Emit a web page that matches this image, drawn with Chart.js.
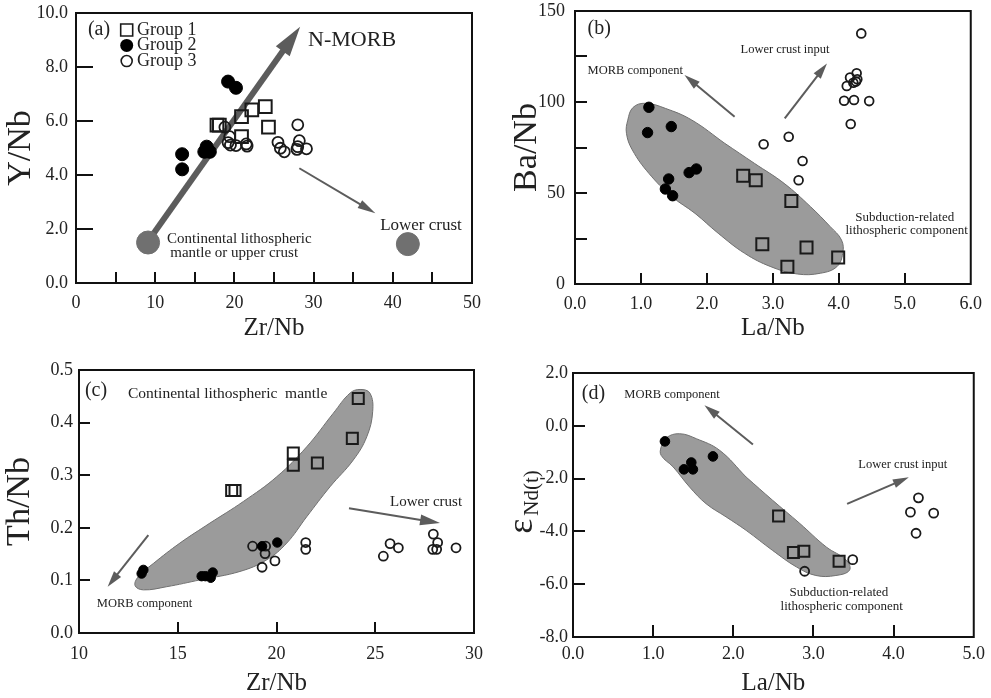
<!DOCTYPE html>
<html>
<head>
<meta charset="utf-8">
<script src="https://cdn.jsdelivr.net/npm/chart.js@4.4.0/dist/chart.umd.min.js"></script>
<style>
html, body { margin: 0; padding: 0; background: #fff; }
#wrap { position: relative; width: 991px; height: 698px; }
#wrap canvas { position: absolute; }
</style>
</head>
<body>
<div id="wrap">
  <canvas id="chartA" width="495" height="345" style="left:0;top:0"></canvas>
  <canvas id="chartB" width="491" height="345" style="left:500px;top:0"></canvas>
  <canvas id="chartC" width="495" height="348" style="left:0;top:350px"></canvas>
  <canvas id="chartD" width="491" height="348" style="left:500px;top:350px"></canvas>
</div>
<script>
// ---- (a) Zr/Nb vs Y/Nb ----
const aG1Zr = [17.8, 18.1, 20.9, 22.2, 23.9, 24.3, 20.9];
const aG1Y = [5.85, 5.85, 6.16, 6.41, 6.53, 5.77, 5.42];
const aG2Zr = [19.2, 20.2, 13.4, 13.4, 16.5, 16.2, 16.9, 16.6];
const aG2Y = [7.46, 7.23, 4.77, 4.21, 5.05, 4.86, 4.86, 4.95];
const aG3Zr = [18.8, 19.4, 19.2, 19.5, 20.2, 21.5, 21.6, 25.5, 25.8, 26.3, 28.0, 28.2, 27.9, 29.1, 28.0];
const aG3Y = [5.77, 5.42, 5.20, 5.11, 5.09, 5.15, 5.07, 5.21, 4.99, 4.86, 5.86, 5.27, 4.95, 4.97, 5.05];
const aEndZr = [9.1, 41.9];
const aEndY = [1.5, 1.44];
const aArrowMorb = [9.1, 1.55, 28.3, 9.49];
const aArrowCrust = [28.2, 4.25, 37.8, 2.58];

// ---- (b) La/Nb vs Ba/Nb ----
const bG1La = [2.55, 2.74, 3.28, 2.84, 3.51, 3.22, 3.99];
const bG1Ba = [59.5, 57.0, 45.6, 21.8, 20.1, 9.5, 14.5];
const bG2La = [1.12, 1.10, 1.46, 1.42, 1.37, 1.48, 1.73, 1.84];
const bG2Ba = [97.1, 83.2, 86.5, 57.7, 52.2, 48.5, 61.2, 63.2];
const bG3La = [4.34, 2.86, 3.24, 3.45, 3.39, 4.08, 4.23, 4.46, 4.18, 4.12, 4.17, 4.27, 4.26, 4.22, 4.28];
const bG3Ba = [137.7, 76.8, 80.9, 67.6, 57.0, 100.7, 101.1, 100.5, 87.9, 108.8, 113.4, 115.8, 111.2, 110.6, 112.5];
const bField = [[2.27, 77.3], [2.72, 66.3], [3.17, 55.3], [3.57, 42.5], [3.87, 31.5], [4.04, 24.2], [4.06, 16.9],
  [3.97, 9.5], [3.72, 5.9], [3.37, 5.5], [2.97, 9.5], [2.57, 16.9], [2.17, 27.9], [1.82, 38.8], [1.47, 48.0],
  [1.12, 60.8], [0.87, 73.6], [0.78, 82.8], [0.80, 90.0], [0.88, 97.0], [1.07, 99.3], [1.37, 96.5], [1.77, 90.1], [2.27, 77.3]];
const bArrowMorb = [2.42, 91.9, 1.66, 114.8];
const bArrowCrust = [3.18, 91.0, 3.82, 121.2];

// ---- (c) Zr/Nb vs Th/Nb ----
const cG1Zr = [24.14, 23.84, 20.85, 20.85, 22.07, 17.73, 17.9];
const cG1Th = [0.446, 0.370, 0.342, 0.319, 0.323, 0.271, 0.271];
const cG2Zr = [13.26, 13.17, 16.21, 16.67, 16.77, 16.4, 19.27, 20.04];
const cG2Th = [0.120, 0.113, 0.108, 0.105, 0.115, 0.108, 0.165, 0.172];
const cG3Zr = [18.79, 19.45, 19.42, 19.92, 19.27, 21.48, 21.48, 25.41, 25.75, 26.17, 27.94, 28.16, 27.91, 28.11, 29.09];
const cG3Th = [0.165, 0.165, 0.151, 0.137, 0.125, 0.172, 0.159, 0.146, 0.170, 0.162, 0.188, 0.172, 0.159, 0.159, 0.162];
const cField = [[16.63, 0.209], [18.32, 0.250], [20.01, 0.297], [21.53, 0.354], [22.88, 0.418], [23.72, 0.456],
  [24.23, 0.463], [24.73, 0.456], [24.87, 0.421], [24.57, 0.373], [23.89, 0.329], [22.71, 0.278], [21.53, 0.221],
  [20.52, 0.171], [19.5, 0.139], [18.15, 0.117], [16.13, 0.101], [14.44, 0.088], [13.26, 0.082], [12.84, 0.090],
  [13.0, 0.107], [13.76, 0.132], [15.11, 0.171], [16.63, 0.209]];
const cArrowMorb = [13.51, 0.186, 11.45, 0.088];
const cArrowCrust = [23.67, 0.237, 28.28, 0.209];

// ---- (d) La/Nb vs eNd(t) ----
const dG1La = [2.565, 2.75, 2.88, 3.32];
const dG1Nd = [-3.42, -4.80, -4.75, -5.13];
const dG2La = [1.147, 1.746, 1.384, 1.476, 1.496];
const dG2Nd = [-0.59, -1.16, -1.65, -1.39, -1.65];
const dG3La = [3.49, 2.89, 4.31, 4.21, 4.50, 4.28];
const dG3Nd = [-5.07, -5.51, -2.73, -3.27, -3.31, -4.07];
const dField = [[2.16, -1.94], [2.49, -2.82], [2.83, -3.70], [3.16, -4.59], [3.41, -5.09], [3.45, -5.47],
  [3.28, -5.67], [3.03, -5.67], [2.79, -5.35], [2.49, -4.72], [2.16, -3.96], [1.91, -3.45], [1.66, -2.95],
  [1.455, -2.32], [1.25, -1.56], [1.10, -1.12], [1.10, -0.80], [1.165, -0.45], [1.33, -0.30], [1.54, -0.49],
  [1.83, -0.93], [2.16, -1.94]];
const dArrowMorb = [2.245, -0.71, 1.64, 0.78];
const dArrowCrust = [3.42, -2.96, 4.19, -1.95];

const SERIF = '"Liberation Serif", "Times New Roman", Times, serif';
Chart.defaults.font.family = SERIF;
Chart.defaults.color = '#222';
const ARROW = '#5c5c5c';

function pts(xs, ys) {
    return xs.map(function (x, i) { return { x: x, y: ys[i] }; });
}

function poly(list) {
    return list.map(function (p) { return { x: p[0], y: p[1] }; });
}

function groups(g1, g2, g3, r) {
    return [
        { label: 'Group 1', data: g1, pointStyle: 'rect', pointRadius: r[0], backgroundColor: 'rgba(0,0,0,0)', borderColor: '#1a1a1a', borderWidth: 2, order: 1 },
        { label: 'Group 2', data: g2, pointStyle: 'circle', pointRadius: r[1], backgroundColor: '#000', borderColor: '#000', borderWidth: 1, order: 2 },
        { label: 'Group 3', data: g3, pointStyle: 'circle', pointRadius: r[2], backgroundColor: 'rgba(0,0,0,0)', borderColor: '#1a1a1a', borderWidth: 1.8, order: 3 }
    ];
}

function field(list) {
    return {
        type: 'line', label: 'field', data: poly(list), fill: 'shape', tension: 0.4,
        backgroundColor: '#9b9b9b', borderColor: '#707070', borderWidth: 1, pointRadius: 0, order: 10
    };
}

function drawArrow(ctx, x1, y1, x2, y2, lw, head, hw) {
    const ang = Math.atan2(y2 - y1, x2 - x1);
    const c = Math.cos(ang), s = Math.sin(ang);
    const bx = x2 - head * c, by = y2 - head * s;
    ctx.strokeStyle = ARROW;
    ctx.fillStyle = ARROW;
    ctx.lineWidth = lw;
    ctx.beginPath();
    ctx.moveTo(x1, y1);
    ctx.lineTo(bx + 2 * c, by + 2 * s);
    ctx.stroke();
    ctx.beginPath();
    ctx.moveTo(x2, y2);
    ctx.lineTo(bx - hw / 2 * s, by + hw / 2 * c);
    ctx.lineTo(bx + hw / 2 * s, by - hw / 2 * c);
    ctx.closePath();
    ctx.fill();
}

function decorPlugin(cfg) {
    return {
        id: 'decor',
        beforeDatasetsDraw: function (chart) {
            const ctx = chart.ctx, xs = chart.scales.x, ys = chart.scales.y;
            ctx.save();
            cfg.arrows.forEach(function (a) {
                drawArrow(ctx, xs.getPixelForValue(a.at[0]), ys.getPixelForValue(a.at[1]),
                    xs.getPixelForValue(a.at[2]), ys.getPixelForValue(a.at[3]), a.lw, a.head, a.hw);
            });
            ctx.restore();
        },
        afterDatasetsDraw: function (chart) {
            const ctx = chart.ctx, xs = chart.scales.x, ys = chart.scales.y, area = chart.chartArea;
            ctx.save();
            // notes
            ctx.fillStyle = '#222';
            ctx.textAlign = 'left';
            ctx.textBaseline = 'middle';
            cfg.notes.forEach(function (n) {
                ctx.font = n.size + 'px ' + SERIF;
                ctx.fillText(n.text, xs.getPixelForValue(n.x), ys.getPixelForValue(n.y));
            });
            // legend (panel a only)
            if (cfg.legend) {
                const L = cfg.legend;
                ctx.font = L.size + 'px ' + SERIF;
                L.rows.forEach(function (row, i) {
                    const mx = xs.getPixelForValue(L.x), my = ys.getPixelForValue(row.y);
                    ctx.lineWidth = 1.6;
                    ctx.strokeStyle = '#1a1a1a';
                    ctx.fillStyle = '#000';
                    ctx.beginPath();
                    if (i === 0) {
                        ctx.rect(mx - 6, my - 6, 12, 12);
                        ctx.stroke();
                    } else if (i === 1) {
                        ctx.arc(mx, my, 6.5, 0, Math.PI * 2);
                        ctx.fill();
                    } else {
                        ctx.arc(mx, my, 5.5, 0, Math.PI * 2);
                        ctx.stroke();
                    }
                    ctx.fillStyle = '#222';
                    ctx.fillText(row.text, xs.getPixelForValue(L.tx), my);
                });
            }
            // inward tick marks
            ctx.strokeStyle = '#111';
            ctx.lineWidth = 2;
            ctx.beginPath();
            xs.ticks.forEach(function (t) {
                if (t.value > xs.min && t.value < xs.max) {
                    const px = Math.round(xs.getPixelForValue(t.value));
                    ctx.moveTo(px, area.bottom);
                    ctx.lineTo(px, area.bottom - cfg.tickX);
                }
            });
            ys.ticks.forEach(function (t) {
                if (t.value > ys.min && t.value < ys.max) {
                    const py = Math.round(ys.getPixelForValue(t.value));
                    ctx.moveTo(area.left, py);
                    ctx.lineTo(area.left + cfg.tickY, py);
                }
            });
            ctx.stroke();
            // frame
            ctx.lineWidth = 2;
            ctx.strokeRect(area.left, area.top, area.right - area.left, area.bottom - area.top);
            // epsilon title for panel d
            if (cfg.epsTitle) {
                const e = cfg.epsTitle;
                ctx.translate(e.x, e.y);
                ctx.rotate(-Math.PI / 2);
                ctx.fillStyle = '#222';
                ctx.textBaseline = 'alphabetic';
                ctx.font = '36px ' + SERIF;
                const w = ctx.measureText('\u03b5').width;
                ctx.font = '21px ' + SERIF;
                const w2 = ctx.measureText('Nd(t)').width;
                const start = -(w + 3 + w2) / 2;
                ctx.font = '36px ' + SERIF;
                ctx.fillText('\u03b5', start, 5);
                ctx.font = '21px ' + SERIF;
                ctx.fillText('Nd(t)', start + w + 3, 11);
            }
            ctx.restore();
        }
    };
}

function makeChart(id, cfg) {
    new Chart(document.getElementById(id), {
        type: 'scatter',
        data: { datasets: cfg.datasets },
        options: {
            responsive: false,
            animation: false,
            events: [],
            layout: { padding: cfg.pad },
            plugins: { legend: { display: false }, tooltip: { enabled: false } },
            scales: {
                x: {
                    type: 'linear', min: cfg.x.min, max: cfg.x.max,
                    grid: { display: false, drawTicks: false }, border: { display: false },
                    ticks: { stepSize: cfg.x.step, padding: cfg.x.pad, autoSkip: false, maxRotation: 0, font: { size: 18 }, color: '#222', callback: cfg.x.fmt },
                    title: { display: true, text: cfg.x.title, font: { size: 25 }, color: '#222', padding: { top: 0, bottom: cfg.x.tpad } },
                    afterFit: function (s) { s.height = cfg.x.h; }
                },
                y: {
                    type: 'linear', min: cfg.y.min, max: cfg.y.max,
                    grid: { display: false, drawTicks: false }, border: { display: false },
                    // small lineHeight keeps the top label from pushing the plot area down
                    ticks: { stepSize: cfg.y.step, padding: cfg.y.pad, autoSkip: false, font: { size: 18, lineHeight: 0.1 }, color: '#222', callback: cfg.y.fmt },
                    title: { display: !!cfg.y.title, text: cfg.y.title || '', font: { size: 34 }, color: '#222', padding: { top: cfg.y.tpad, bottom: 0 } },
                    afterFit: function (s) { s.width = cfg.y.w; }
                }
            }
        },
        plugins: [decorPlugin(cfg)]
    });
}

function fix1(v) { return v.toFixed(1); }

makeChart('chartA', {
    datasets: groups(pts(aG1Zr, aG1Y), pts(aG2Zr, aG2Y), pts(aG3Zr, aG3Y), [9, 6.5, 5.5]).concat([
        { label: 'end-members', data: pts(aEndZr, aEndY), pointStyle: 'circle', pointRadius: 11.5, backgroundColor: '#707070', borderColor: '#707070', order: 4 }
    ]),
    pad: { left: 0, top: 13, right: 23, bottom: 0 },
    x: { min: 0, max: 50, step: 5, pad: 9, h: 62, tpad: 2, title: 'Zr/Nb', fmt: function (v) { return v % 10 === 0 ? String(v) : ''; } },
    y: { min: 0, max: 10, step: 2, pad: 8, w: 76, tpad: 1, title: 'Y/Nb', fmt: fix1 },
    tickX: 11, tickY: 17,
    arrows: [
        { at: aArrowMorb, lw: 6, head: 30, hw: 17 },
        { at: aArrowCrust, lw: 2, head: 18, hw: 9 }
    ],
    notes: [
        { text: '(a)', x: 1.5, y: 9.37, size: 20 },
        { text: 'N-MORB', x: 29.3, y: 9.0, size: 22 },
        { text: 'Continental lithospheric', x: 11.5, y: 1.63, size: 15 },
        { text: 'mantle or upper crust', x: 11.9, y: 1.11, size: 15 },
        { text: 'Lower crust', x: 38.4, y: 2.11, size: 17 }
    ],
    legend: { x: 6.4, tx: 7.7, size: 18, rows: [{ text: 'Group 1', y: 9.37 }, { text: 'Group 2', y: 8.8 }, { text: 'Group 3', y: 8.22 }] }
});

makeChart('chartB', {
    datasets: groups(pts(bG1La, bG1Ba), pts(bG2La, bG2Ba), pts(bG3La, bG3Ba), [8.5, 5.2, 4.4]).concat([field(bField)]),
    pad: { left: 6, top: 11, right: 15, bottom: 0 },
    x: { min: 0, max: 6, step: 1, pad: 9, h: 61, tpad: 2, title: 'La/Nb', fmt: fix1 },
    y: { min: 0, max: 150, step: 25, pad: 10, w: 69, tpad: 1, title: 'Ba/Nb', fmt: function (v) { return v % 50 === 0 ? String(v) : ''; } },
    tickX: 11, tickY: 12,
    arrows: [
        { at: bArrowMorb, lw: 2, head: 16, hw: 9 },
        { at: bArrowCrust, lw: 2, head: 16, hw: 9 }
    ],
    notes: [
        { text: '(b)', x: 0.19, y: 140, size: 20 },
        { text: 'MORB component', x: 0.19, y: 117, size: 12.5 },
        { text: 'Lower crust input', x: 2.51, y: 129, size: 12.5 },
        { text: 'Subduction-related', x: 4.25, y: 36.3, size: 13 },
        { text: 'lithospheric component', x: 4.10, y: 29.1, size: 13 }
    ]
});

makeChart('chartC', {
    datasets: groups(pts(cG1Zr, cG1Th), pts(cG2Zr, cG2Th), pts(cG3Zr, cG3Th), [7.8, 4.7, 4.5]).concat([field(cField)]),
    pad: { left: 0, top: 20, right: 21, bottom: 0 },
    x: { min: 10, max: 30, step: 5, pad: 10, h: 65, tpad: 0, title: 'Zr/Nb', fmt: function (v) { return String(v); } },
    y: { min: 0, max: 0.5, step: 0.1, pad: 6, w: 79, tpad: 0, title: 'Th/Nb', fmt: fix1 },
    tickX: 11, tickY: 11,
    arrows: [
        { at: cArrowMorb, lw: 2, head: 16, hw: 9 },
        { at: cArrowCrust, lw: 2, head: 20, hw: 11 }
    ],
    notes: [
        { text: '(c)', x: 10.3, y: 0.46, size: 20 },
        { text: 'Continental lithospheric  mantle', x: 12.48, y: 0.454, size: 15.5 },
        { text: 'Lower crust', x: 25.75, y: 0.249, size: 15 },
        { text: 'MORB component', x: 10.9, y: 0.055, size: 12.5 }
    ]
});

makeChart('chartD', {
    datasets: groups(pts(dG1La, dG1Nd), pts(dG2La, dG2Nd), pts(dG3La, dG3Nd), [7.8, 4.8, 4.5]).concat([field(dField)]),
    pad: { left: 0, top: 23, right: 17, bottom: 0 },
    x: { min: 0, max: 5, step: 1, pad: 6, h: 61, tpad: 0, title: 'La/Nb', fmt: fix1 },
    y: { min: -8, max: 2, step: 2, pad: 5, w: 73, tpad: 0, title: '', fmt: fix1 },
    tickX: 12, tickY: 12,
    arrows: [
        { at: dArrowMorb, lw: 2, head: 16, hw: 9 },
        { at: dArrowCrust, lw: 2, head: 16, hw: 9 }
    ],
    notes: [
        { text: '(d)', x: 0.11, y: 1.23, size: 20 },
        { text: 'MORB component', x: 0.64, y: 1.16, size: 12.5 },
        { text: 'Lower crust input', x: 3.56, y: -1.49, size: 12.5 },
        { text: 'Subduction-related', x: 2.70, y: -6.31, size: 13 },
        { text: 'lithospheric component', x: 2.59, y: -6.84, size: 13 }
    ],
    epsTitle: { x: 27, y: 152 }
});
</script>
</body>
</html>
